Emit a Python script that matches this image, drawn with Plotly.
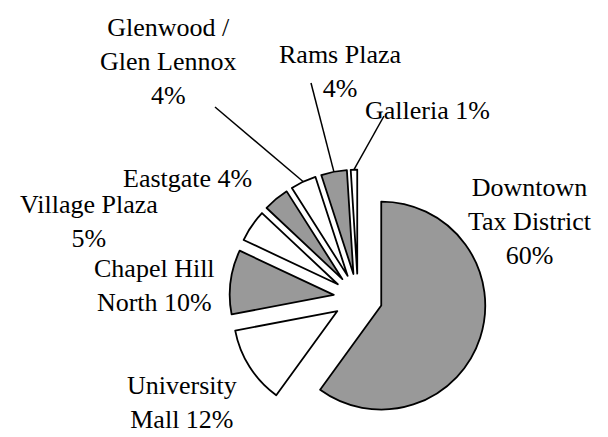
import math
import plotly.graph_objects as go

# ---- data ----
labels = ["Downtown Tax District", "University Mall", "Chapel Hill North",
          "Village Plaza", "Eastgate", "Glenwood / Glen Lennox",
          "Rams Plaza", "Galleria"]
values = [60, 12, 10, 5, 4, 4, 4, 1]
label_texts = ["Downtown<br>Tax District<br>60%", "University<br>Mall 12%",
               "Chapel Hill<br>North 10%", "Village Plaza<br>5%", "Eastgate 4%",
               "Glenwood /<br>Glen Lennox<br>4%", "Rams Plaza<br>4%", "Galleria 1%"]

W, H = 608, 437
GREY = "#999999"
colors = [GREY if i % 2 == 0 else "#ffffff" for i in range(len(values))]

# pie geometry (pixels)
CX, CY, R = 358, 298, 104
PULL = 0.235
half = R * (1 + PULL)

FAMILY = "Times New Roman, Liberation Serif, DejaVu Serif, serif"

fig = go.Figure(go.Pie(
    labels=labels, values=values, sort=False, direction="clockwise", rotation=0,
    pull=[PULL] * len(values), textinfo="none", hoverinfo="label+percent",
    marker=dict(colors=colors, line=dict(color="black", width=1.8)),
    domain=dict(x=[(CX - half) / W, (CX + half) / W],
                y=[1 - (CY + half) / H, 1 - (CY - half) / H]),
    showlegend=False,
))

# label positions (pixel centres)
label_pos = [(530, 221), (182, 402), (154, 285), (89, 221), (187, 178),
             (168, 61), (340, 71), (427, 110)]
font = dict(family=FAMILY, size=26, color="black")
for txt, (px, py) in zip(label_texts, label_pos):
    fig.add_annotation(x=px / W, y=1 - py / H, xref="paper", yref="paper",
                       text=txt, showarrow=False, font=font,
                       xanchor="center", yanchor="middle", align="center")

# leader lines for small slices: from label to slice outer midpoint
leader_start = {5: (215, 107), 6: (311, 83), 7: (384, 116)}
total = sum(values)
cum = 0
for i, v in enumerate(values):
    mid = (cum + v / 2) / total * 2 * math.pi
    cum += v
    if i in leader_start:
        tx = CX + half * math.sin(mid)
        ty = CY - half * math.cos(mid)
        sx, sy = leader_start[i]
        fig.add_shape(type="line", xref="paper", yref="paper",
                      x0=sx / W, y0=1 - sy / H, x1=tx / W, y1=1 - ty / H,
                      line=dict(color="black", width=1.5))

fig.update_layout(width=W, height=H, margin=dict(l=0, r=0, t=0, b=0),
                  font=dict(family=FAMILY, size=26, color="black"),
                  paper_bgcolor="white", plot_bgcolor="white")
fig.write_html("out.html")
